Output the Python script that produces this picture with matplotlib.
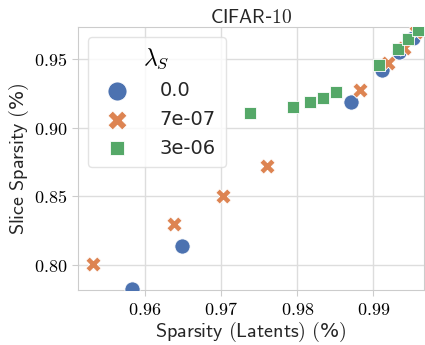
import matplotlib
matplotlib.use('Agg')
import matplotlib.pyplot as plt
from matplotlib.ticker import FuncFormatter

# lambda_S = 0.0
x_0 = [0.95826, 0.96489, 0.98711, 0.99114, 0.99340, 0.99515]
y_0 = [0.7823, 0.8138, 0.9187, 0.9422, 0.9555, 0.9653]
# lambda_S = 7e-07
x_1 = [0.95323, 0.96380, 0.97025, 0.97600, 0.98830, 0.99187, 0.99405, 0.99558]
y_1 = [0.8005, 0.8297, 0.8503, 0.8721, 0.9275, 0.9471, 0.9580, 0.9701]
# lambda_S = 3e-06
x_2 = [0.97385, 0.97948, 0.98170, 0.98336, 0.98510, 0.99079, 0.99319, 0.99450, 0.99581]
y_2 = [0.9109, 0.9153, 0.9185, 0.9217, 0.9258, 0.9458, 0.9573, 0.9648, 0.9714]

labels = ['0.0', '7e-07', '3e-06']
xticks = [0.96, 0.97, 0.98, 0.99]
yticks = [0.80, 0.85, 0.90, 0.95]

plt.rcParams['mathtext.fontset'] = 'cm'

fig = plt.figure(figsize=(4.25, 3.45), dpi=100)
ax = fig.add_axes([0.1835, 0.158, 0.815, 0.764])

ax.scatter(x_0, y_0, s=120, marker='o', color='#4C72B0', edgecolor='white', linewidth=0.6, label=labels[0], zorder=3)
ax.scatter(x_1, y_1, s=120, marker='X', color='#DD8452', edgecolor='white', linewidth=0.6, label=labels[1], zorder=3)
ax.scatter(x_2, y_2, s=65, marker='s', color='#55A868', edgecolor='white', linewidth=0.6, label=labels[2], zorder=3)

ax.set_xlim(0.9512, 0.9967)
ax.set_ylim(0.7813, 0.9735)
ax.set_xticks(xticks)
ax.set_yticks(yticks)
ax.xaxis.set_major_formatter(FuncFormatter(lambda v, p: r'$%.2f$' % v))
ax.yaxis.set_major_formatter(FuncFormatter(lambda v, p: r'$%.2f$' % v))
ax.tick_params(labelsize=13, length=4, color='#cccccc')

ax.grid(True, color='#dddddd', linewidth=1)
ax.set_axisbelow(True)
for sp in ax.spines.values():
    sp.set_color('#cccccc')

ax.set_xlabel(r'$\mathsf{Sparsity\ (Latents)\ (}$%$\mathsf{)}$', fontsize=14.5, color='#262626', labelpad=1)
ax.set_ylabel(r'$\mathsf{Slice\ Sparsity\ (}$%$\mathsf{)}$', fontsize=14.5, color='#262626', labelpad=2)
ax.set_title(r'$\mathsf{CIFAR}$-$\mathsf{10}$', fontsize=14, color='#262626', pad=3)

leg = ax.legend(title=r'$\lambda_S$', loc='upper left', fontsize=14, title_fontsize=17,
                markerscale=1.25, frameon=True, borderpad=0.5, labelspacing=0.5,
                handletextpad=1.2, borderaxespad=0.5)
leg.get_frame().set_edgecolor('#dddddd')
for t in leg.get_texts():
    t.set_color('#262626')

fig.savefig('out.png', dpi=100)
